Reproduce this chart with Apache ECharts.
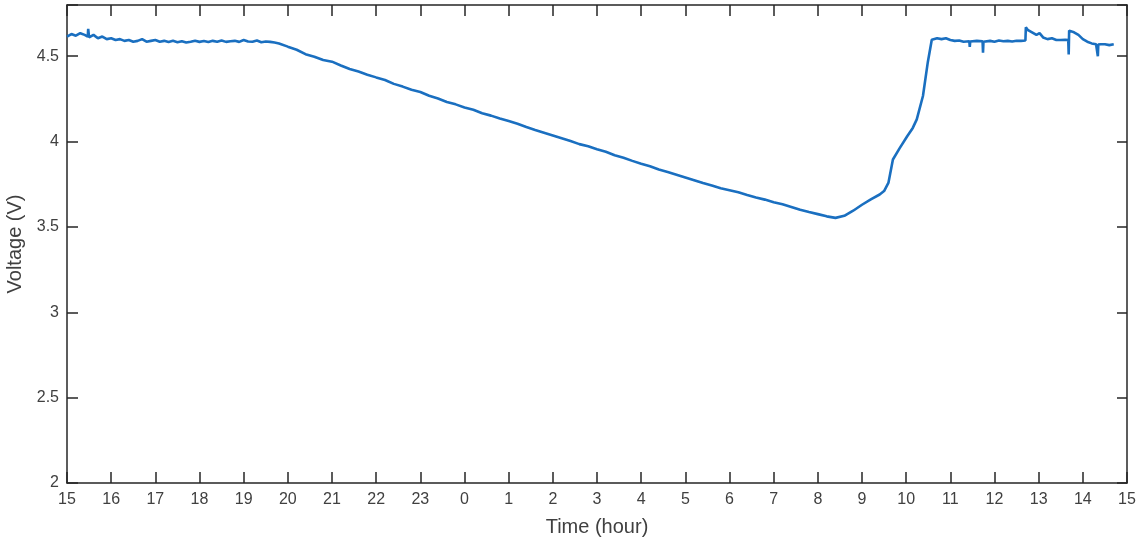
<!DOCTYPE html>
<html>
<head>
<meta charset="utf-8">
<script src="https://cdn.jsdelivr.net/npm/echarts@6/dist/echarts.min.js"></script>
<style>
html,body{margin:0;padding:0;background:#fff;}
#chart{width:1144px;height:544px;}
</style>
</head>
<body>
<div id="chart"></div>
<script>
// Hours elapsed since 15:00 (x position) and measured voltage
const hours = [
  0, 0.1, 0.2, 0.3, 0.4, 0.47, 0.48, 0.5, 0.6, 0.7, 0.8, 0.9, 1.0, 1.1, 1.2, 1.3, 1.4, 1.5, 1.6, 1.7, 1.8, 1.9,
  2.0, 2.1, 2.2, 2.3, 2.4, 2.5, 2.6, 2.7, 2.8, 2.9, 3.0, 3.1, 3.2, 3.3, 3.4, 3.5, 3.6, 3.7, 3.8, 3.9,
  4.0, 4.1, 4.2, 4.3, 4.4, 4.5, 4.6, 4.7, 4.8,
  5.0, 5.2, 5.4, 5.6, 5.8, 6.0, 6.2, 6.4, 6.6, 6.8, 7.0, 7.2, 7.4, 7.6, 7.8, 8.0, 8.2, 8.4, 8.6, 8.8,
  9.0, 9.2, 9.4, 9.6, 9.8, 10.0, 10.2, 10.4, 10.6, 10.8, 11.0, 11.2, 11.4, 11.6, 11.8, 12.0, 12.2, 12.4, 12.6, 12.8,
  13.0, 13.2, 13.4, 13.6, 13.8, 14.0, 14.2, 14.4, 14.6, 14.8, 15.0, 15.2, 15.4, 15.6, 15.8, 16.0, 16.2, 16.4, 16.6, 16.8,
  17.0, 17.2, 17.4, 17.6, 17.8, 18.0, 18.2, 18.4, 18.5, 18.6, 18.7, 18.85, 19.02, 19.15, 19.24, 19.38, 19.49, 19.58,
  19.7, 19.8, 19.9, 20.0, 20.1, 20.2, 20.3, 20.43, 20.44, 20.45, 20.6, 20.73, 20.74, 20.75, 20.9, 21.0, 21.1, 21.2, 21.3, 21.4, 21.5, 21.6, 21.7,
  21.71, 21.75, 21.85, 21.95, 22.02, 22.1, 22.2, 22.3, 22.4, 22.5, 22.6, 22.67, 22.68, 22.69, 22.7, 22.8, 22.9, 23.0,
  23.1, 23.2, 23.3, 23.33, 23.34, 23.35, 23.4, 23.5, 23.6, 23.7
];
const volts = [
  4.615, 4.63, 4.62, 4.635, 4.625, 4.615, 4.66, 4.61, 4.625, 4.605, 4.615, 4.60, 4.605, 4.595, 4.60, 4.59, 4.595, 4.585, 4.59, 4.60, 4.585, 4.59,
  4.595, 4.585, 4.59, 4.583, 4.59, 4.582, 4.588, 4.58, 4.585, 4.591, 4.584, 4.589, 4.583, 4.59, 4.585, 4.592, 4.584, 4.588, 4.59, 4.584,
  4.595, 4.586, 4.585, 4.592, 4.582, 4.586, 4.584, 4.58, 4.575,
  4.556, 4.538, 4.512, 4.497, 4.478, 4.468, 4.446, 4.425, 4.41, 4.392, 4.376, 4.361, 4.338, 4.322, 4.303, 4.29, 4.268, 4.252, 4.232, 4.218,
  4.20, 4.186, 4.166, 4.152, 4.135, 4.12, 4.104, 4.085, 4.068, 4.052, 4.036, 4.02, 4.003, 3.985, 3.972, 3.955, 3.94, 3.92, 3.905, 3.887,
  3.87, 3.855, 3.836, 3.822, 3.806, 3.79, 3.774, 3.757, 3.742, 3.726, 3.715, 3.703, 3.687, 3.672, 3.66, 3.645, 3.633, 3.617, 3.60, 3.587,
  3.575, 3.562, 3.553, 3.565, 3.595, 3.63, 3.662, 3.69, 3.71, 3.76, 3.895, 3.96, 4.03, 4.08, 4.13, 4.267, 4.465, 4.596,
  4.605, 4.60, 4.605, 4.595, 4.59, 4.592, 4.585, 4.588, 4.555, 4.586, 4.59, 4.588, 4.52, 4.585, 4.59, 4.585, 4.592, 4.588, 4.59, 4.586, 4.591, 4.59, 4.592,
  4.67, 4.655, 4.64, 4.625, 4.635, 4.61, 4.60, 4.605, 4.595, 4.595, 4.596, 4.594, 4.51, 4.65, 4.648, 4.64, 4.625, 4.60,
  4.585, 4.575, 4.57, 4.568, 4.50, 4.568, 4.57, 4.57, 4.565, 4.57
];
const xTickLabels = ['15','16','17','18','19','20','21','22','23','0','1','2','3','4','5','6','7','8','9','10','11','12','13','14','15'];

const seriesData = hours.map((h, i) => [h, volts[i]]);
const font = 'Arial, "Liberation Sans", sans-serif';
const axisColor = '#262626';
const labelColor = '#404040';
const yFmt = v => (Math.abs(v * 2 - Math.round(v * 2)) < 1e-6 ? String(v) : '');

const chart = echarts.init(document.getElementById('chart'), null, {renderer: 'canvas'});
chart.setOption({
  animation: false,
  backgroundColor: '#fff',
  grid: {left: 67, right: 17, top: 5, bottom: 61, containLabel: false, outerBoundsMode: 'none'},
  xAxis: [{
    type: 'value', min: 0, max: 24, interval: 1, position: 'bottom',
    name: 'Time (hour)', nameLocation: 'middle', nameGap: 34,
    nameTextStyle: {fontFamily: font, fontSize: 20, color: labelColor},
    axisLine: {show: true, onZero: false, lineStyle: {color: axisColor, width: 1.5}},
    axisTick: {show: true, inside: true, length: 11, lineStyle: {color: axisColor, width: 1.5}},
    axisLabel: {fontFamily: font, fontSize: 16, color: labelColor, margin: 9,
      formatter: v => xTickLabels[Math.round(v)] ?? ''},
    splitLine: {show: false}
  }, {
    type: 'value', min: 0, max: 24, interval: 1, position: 'top',
    axisLine: {show: true, onZero: false, lineStyle: {color: axisColor, width: 1.5}},
    axisTick: {show: true, inside: true, length: 11, lineStyle: {color: axisColor, width: 1.5}},
    axisLabel: {show: false}, splitLine: {show: false}
  }],
  yAxis: [{
    type: 'value', min: 2, max: 4.8, interval: 0.5, position: 'left',
    name: 'Voltage (V)', nameLocation: 'middle', nameGap: 37, nameRotate: 90,
    nameTextStyle: {fontFamily: font, fontSize: 20, color: labelColor},
    axisLine: {show: true, onZero: false, lineStyle: {color: axisColor, width: 1.5}},
    axisTick: {show: true, inside: true, length: 11, lineStyle: {color: axisColor, width: 1.5}},
    axisLabel: {fontFamily: font, fontSize: 16, color: labelColor, margin: 8, formatter: yFmt},
    splitLine: {show: false}
  }, {
    type: 'value', min: 2, max: 4.8, interval: 0.5, position: 'right',
    axisLine: {show: true, onZero: false, lineStyle: {color: axisColor, width: 1.5}},
    axisTick: {show: true, inside: true, length: 10, lineStyle: {color: axisColor, width: 1.5}},
    axisLabel: {show: false}, splitLine: {show: false}
  }],
  series: [{
    type: 'line', xAxisIndex: 0, yAxisIndex: 0,
    data: seriesData, showSymbol: false, symbol: 'none',
    lineStyle: {color: '#1a6fc0', width: 2.6},
    clip: true
  }]
});
</script>
</body>
</html>
